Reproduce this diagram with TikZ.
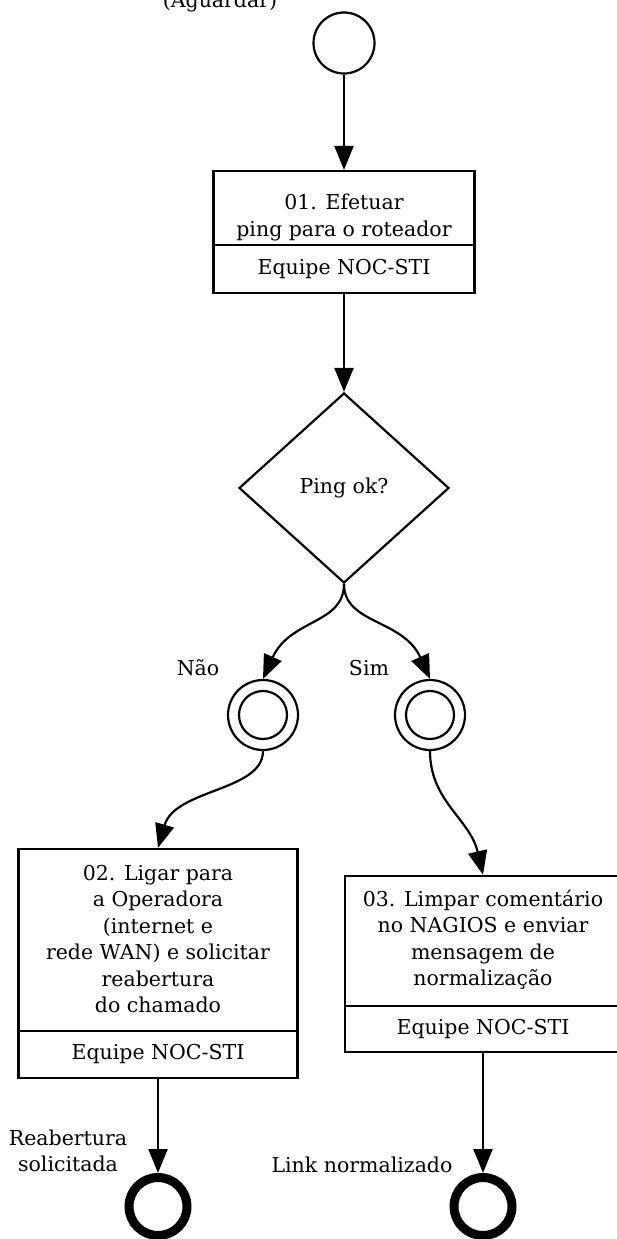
\documentclass[tikz,border=0pt]{standalone}
\usepackage{fontspec}
\setmainfont{DejaVu Serif}
\usetikzlibrary{shapes.geometric,arrows.meta}
\begin{document}
\begin{tikzpicture}[x=1pt,y=-1pt,
  every node/.style={font=\fontsize{20.5}{26.5}\selectfont, inner sep=0pt, outer sep=0pt},
  conn/.style={line width=2.2pt, -{Triangle[length=24pt,width=19pt]}},
  boxs/.style={draw, line width=2.2pt, rectangle, outer sep=1.1pt},
  txt/.style={align=center},
  startc/.style={draw, circle, line width=2.2pt, minimum size=61pt, outer sep=1.1pt},
  midc/.style={draw, circle, line width=2.2pt, minimum size=70pt, outer sep=1.1pt},
  endc/.style={draw, circle, line width=9pt, minimum size=58pt, outer sep=4.5pt},
  dec/.style={draw, diamond, line width=2.2pt, minimum width=210pt, minimum height=190pt, aspect=1.1, outer sep=1.1pt}
]
\useasboundingbox (0,0) rectangle (617,1239);

% top clipped text
\node[anchor=base] (aguardar) at (220,8) {(Aguardar)};

% start
\node[startc] (start) at (344,43) {};

% box 1
\node[boxs, minimum width=261pt, minimum height=122pt] (box1) at (344,232) {};
\draw[line width=2.2pt] (213.5,245) -- (474.5,245);
\node[txt] (t1) at (344,217.5) {01. Efetuar\\ping para o roteador};
\node (r1) at (344,269) {Equipe NOC-STI};

% decision
\node[dec] (dec) at (344,488) {};
\node (dtext) at (344,488) {Ping ok?};

% intermediate events
\node[midc] (nao) at (263,715) {};
\draw[line width=2.2pt] (nao.center) circle[radius=24pt];
\node[midc] (sim) at (430,715) {};
\draw[line width=2.2pt] (sim.center) circle[radius=24pt];
\node (lnao) at (198,668) {Não};
\node (lsim) at (369,668) {Sim};

% box 2
\node[boxs, minimum width=279pt, minimum height=229pt] (box2) at (158,963.5) {};
\draw[line width=2.2pt] (18.5,1031) -- (297.5,1031);
\node[txt] (t2) at (158,939) {02. Ligar para\\a Operadora\\(internet e\\rede WAN) e solicitar\\reabertura\\do chamado};
\node (r2) at (158,1054) {Equipe NOC-STI};

% box 3
\node[boxs, minimum width=276pt, minimum height=176pt] (box3) at (483,964) {};
\draw[line width=2.2pt] (345,1006) -- (621,1006);
\node[txt] (t3) at (483,940) {03. Limpar comentário\\no NAGIOS e enviar\\mensagem de\\normalização};
\node (r3) at (483,1029) {Equipe NOC-STI};

% end events
\node[endc] (end1) at (158,1206.5) {};
\node[endc] (end2) at (483,1206.5) {};
\node[txt] (le1) at (68,1151) {Reabertura\\solicitada};
\node (le2) at (362,1165) {Link normalizado};

% connectors
\draw[conn] (start.south) -- (box1.north);
\draw[conn] (box1.south) -- (dec.north);
\draw[conn] (dec.south) .. controls +(0,40) and +(27,-60) .. (nao.north);
\draw[conn] (dec.south) .. controls +(0,40) and +(-27,-60) .. (sim.north);
\draw[conn] (nao.south) .. controls +(0,40) and +(17,-59) .. (box2.north);
\draw[conn] (sim.south) .. controls +(0,50) and +(-13,-56) .. (box3.north);
\draw[conn] (box2.south) -- (end1.north);
\draw[conn] (box3.south) -- (end2.north);
\end{tikzpicture}
\end{document}
